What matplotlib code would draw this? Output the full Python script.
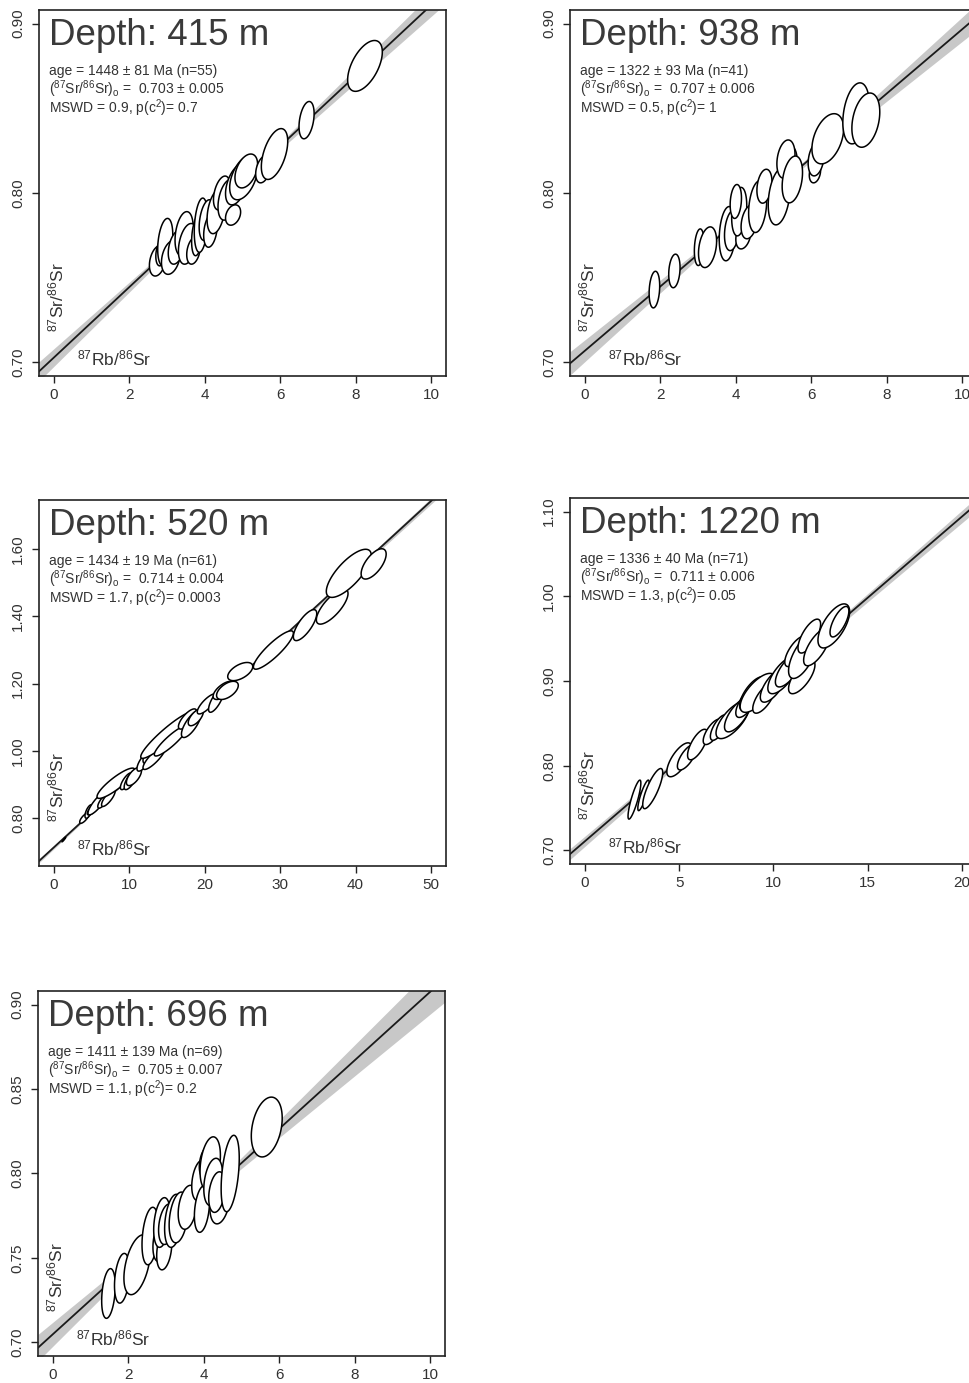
import numpy as np
import matplotlib
matplotlib.use('Agg')
import matplotlib.pyplot as plt
from matplotlib.transforms import offset_copy

plt.rcParams['font.family'] = ['Liberation Sans', 'DejaVu Sans']
plt.rcParams['mathtext.fontset'] = 'custom'
plt.rcParams['mathtext.rm'] = 'Liberation Sans'
plt.rcParams['mathtext.default'] = 'regular'

LAMBDA = 1.42e-11   # 87Rb decay constant (1/yr)

## panel results
depths = [415, 938, 520, 1220, 696]
ages = [1448, 1322, 1434, 1336, 1411]
age_errs = [81, 93, 19, 40, 139]
n_pts = [55, 41, 61, 71, 69]
sr0 = [0.703, 0.707, 0.714, 0.711, 0.705]
sr0_errs = [0.005, 0.006, 0.004, 0.006, 0.007]
mswd = ['0.9', '0.5', '1.7', '1.3', '1.1']
pchi = ['0.7', '1', '0.0003', '0.05', '0.2']

## error ellipses: centre, half widths and correlation
p1_x = [2.75, 2.85, 2.95, 3.10, 3.25, 3.45, 3.55, 3.70, 3.80, 3.90, 4.05, 4.15, 4.30, 4.45, 4.60, 4.75, 4.85, 5.03, 5.10, 5.55, 5.85, 6.70, 8.25]
p1_y = [0.760, 0.765, 0.771, 0.762, 0.768, 0.776, 0.770, 0.766, 0.775, 0.781, 0.784, 0.778, 0.789, 0.800, 0.796, 0.787, 0.805, 0.809, 0.813, 0.814, 0.823, 0.843, 0.875]
p1_sx = [0.22, 0.15, 0.20, 0.25, 0.22, 0.24, 0.25, 0.18, 0.15, 0.18, 0.20, 0.18, 0.24, 0.22, 0.25, 0.20, 0.30, 0.37, 0.30, 0.20, 0.35, 0.20, 0.46]
p1_sy = [0.009, 0.008, 0.014, 0.010, 0.010, 0.013, 0.012, 0.008, 0.012, 0.016, 0.012, 0.010, 0.013, 0.010, 0.012, 0.006, 0.012, 0.013, 0.010, 0.008, 0.015, 0.011, 0.015]
p1_rho = [0.3, 0.3, 0.3, 0.3, 0.35, 0.3, 0.35, 0.3, 0.3, 0.25, 0.35, 0.3, 0.35, 0.4, 0.35, 0.3, 0.45, 0.45, 0.4, 0.35, 0.5, 0.35, 0.55]

p2_x = [1.84, 2.37, 3.03, 3.25, 3.78, 3.90, 4.20, 4.09, 4.00, 4.36, 4.58, 4.76, 5.15, 5.45, 5.33, 5.50, 6.10, 6.13, 6.44, 7.19, 7.45]
p2_y = [0.743, 0.754, 0.768, 0.768, 0.776, 0.778, 0.775, 0.789, 0.795, 0.783, 0.792, 0.804, 0.798, 0.815, 0.820, 0.808, 0.812, 0.820, 0.832, 0.847, 0.843]
p2_sx = [0.14, 0.15, 0.13, 0.24, 0.22, 0.20, 0.20, 0.20, 0.15, 0.22, 0.24, 0.20, 0.29, 0.18, 0.24, 0.27, 0.15, 0.21, 0.42, 0.35, 0.37]
p2_sy = [0.0108, 0.0099, 0.0108, 0.012, 0.016, 0.012, 0.008, 0.0143, 0.010, 0.010, 0.0153, 0.010, 0.0168, 0.012, 0.0113, 0.0138, 0.006, 0.0099, 0.0148, 0.018, 0.016]
p2_rho = [0.2, 0.2, 0.2, 0.3, 0.2, 0.25, 0.3, 0.25, 0.2, 0.3, 0.25, 0.25, 0.3, 0.25, 0.25, 0.3, 0.25, 0.25, 0.4, 0.3, 0.3]

p3_x = [1.3, 4.0, 4.6, 5.3, 5.8, 6.5, 7.2, 8.2, 9.6, 10.2, 10.6, 12.0, 12.6, 13.3, 15.0, 15.5, 17.7, 18.2, 18.8, 20.3, 21.5, 22.5, 23.0, 24.7, 29.1, 33.3, 36.9, 39.1, 42.4]
p3_y = [0.737, 0.800, 0.820, 0.830, 0.845, 0.850, 0.860, 0.904, 0.910, 0.915, 0.924, 0.970, 0.988, 0.980, 1.047, 1.030, 1.095, 1.080, 1.100, 1.140, 1.150, 1.180, 1.180, 1.236, 1.300, 1.374, 1.429, 1.528, 1.556]
p3_sx = [0.25, 0.6, 0.5, 0.9, 1.3, 0.7, 0.9, 2.5, 0.8, 0.9, 1.0, 1.0, 0.8, 1.5, 3.5, 2.2, 1.2, 1.3, 1.0, 1.3, 1.0, 1.4, 1.44, 1.66, 2.65, 1.55, 2.1, 2.98, 1.66]
p3_sy = [0.007, 0.015, 0.020, 0.020, 0.035, 0.020, 0.025, 0.045, 0.025, 0.030, 0.027, 0.030, 0.025, 0.035, 0.069, 0.045, 0.030, 0.040, 0.025, 0.030, 0.035, 0.027, 0.027, 0.027, 0.057, 0.046, 0.052, 0.0715, 0.045]
p3_rho = [0.95, 0.75, 0.65, 0.8, 0.85, 0.75, 0.8, 0.88, 0.75, 0.75, 0.65, 0.75, 0.65, 0.85, 0.93, 0.9, 0.75, 0.75, 0.65, 0.8, 0.75, 0.65, 0.55, 0.55, 0.88, 0.75, 0.75, 0.75, 0.65]

p4_x = [2.62, 3.10, 3.59, 5.00, 5.40, 5.97, 6.77, 7.10, 7.83, 8.10, 8.60, 8.90, 9.16, 9.50, 10.0, 10.5, 10.8, 11.2, 11.5, 11.55, 11.9, 12.3, 13.2, 13.5]
p4_y = [0.760, 0.765, 0.773, 0.807, 0.810, 0.825, 0.840, 0.845, 0.854, 0.860, 0.875, 0.885, 0.886, 0.880, 0.895, 0.907, 0.913, 0.935, 0.905, 0.929, 0.953, 0.940, 0.965, 0.970]
p4_sx = [0.34, 0.30, 0.53, 0.66, 0.50, 0.53, 0.50, 0.45, 0.88, 0.70, 0.60, 0.70, 0.93, 0.60, 0.70, 0.80, 0.70, 0.60, 0.70, 0.75, 0.60, 0.70, 0.84, 0.50]
p4_sy = [0.023, 0.018, 0.0237, 0.020, 0.015, 0.018, 0.015, 0.015, 0.022, 0.020, 0.018, 0.020, 0.023, 0.018, 0.020, 0.022, 0.020, 0.018, 0.020, 0.026, 0.020, 0.022, 0.026, 0.018]
p4_rho = [0.85, 0.85, 0.8, 0.7, 0.7, 0.7, 0.7, 0.7, 0.7, 0.7, 0.7, 0.7, 0.7, 0.7, 0.7, 0.7, 0.7, 0.7, 0.7, 0.65, 0.7, 0.7, 0.65, 0.7]

p5_x = [1.47, 1.83, 2.23, 2.58, 2.85, 2.95, 2.89, 3.02, 3.20, 3.33, 3.57, 3.90, 3.95, 4.10, 4.17, 4.25, 4.43, 4.35, 4.70, 5.67]
p5_y = [0.729, 0.738, 0.746, 0.763, 0.760, 0.755, 0.771, 0.770, 0.772, 0.774, 0.780, 0.796, 0.779, 0.807, 0.806, 0.795, 0.784, 0.789, 0.800, 0.8275]
p5_sx = [0.18, 0.20, 0.35, 0.22, 0.20, 0.20, 0.22, 0.22, 0.24, 0.25, 0.25, 0.22, 0.20, 0.22, 0.27, 0.25, 0.27, 0.22, 0.24, 0.41]
p5_sy = [0.0147, 0.0147, 0.0177, 0.017, 0.012, 0.012, 0.0147, 0.012, 0.0157, 0.015, 0.013, 0.012, 0.0138, 0.010, 0.0157, 0.014, 0.0138, 0.012, 0.0226, 0.0177]
p5_rho = [0.3, 0.3, 0.45, 0.3, 0.3, 0.3, 0.3, 0.3, 0.3, 0.3, 0.3, 0.3, 0.3, 0.3, 0.3, 0.3, 0.3, 0.3, 0.4, 0.3]

ell_x = [p1_x, p2_x, p3_x, p4_x, p5_x]
ell_y = [p1_y, p2_y, p3_y, p4_y, p5_y]
ell_sx = [p1_sx, p2_sx, p3_sx, p4_sx, p5_sx]
ell_sy = [p1_sy, p2_sy, p3_sy, p4_sy, p5_sy]
ell_rho = [p1_rho, p2_rho, p3_rho, p4_rho, p5_rho]

xticks = [[0, 2, 4, 6, 8, 10], [0, 2, 4, 6, 8, 10], [0, 10, 20, 30, 40, 50],
          [0, 5, 10, 15, 20], [0, 2, 4, 6, 8, 10]]
yticks = [[0.70, 0.80, 0.90], [0.70, 0.80, 0.90], [0.80, 1.00, 1.20, 1.40, 1.60],
          [0.70, 0.80, 0.90, 1.00, 1.10], [0.70, 0.75, 0.80, 0.85, 0.90]]
xlims = [(-0.4, 10.4), (-0.4, 10.4), (-2, 52), (-0.8, 20.8), (-0.4, 10.4)]
ylims = [(0.692, 0.908), (0.692, 0.908), (0.658, 1.746), (0.684, 1.116), (0.692, 0.908)]

# axes boxes in pixels: left, top, width, height
W, H = 970, 1383
boxes = [(39, 10, 407, 366), (570, 10, 407, 366), (39, 500, 407, 366),
         (570, 498, 407, 366), (38, 991, 407, 365)]

fig = plt.figure(figsize=(W / 100, H / 100), dpi=100)
tcol = '#333333'

for i in range(5):
    l, t, w, h = boxes[i]
    ax = fig.add_axes([l / W, 1 - (t + h) / H, w / W, h / H])
    ax.set_xlim(*xlims[i])
    ax.set_ylim(*ylims[i])

    # isochron line and error band
    slope = np.exp(LAMBDA * ages[i] * 1e6) - 1
    s_slope = LAMBDA * np.exp(LAMBDA * ages[i] * 1e6) * age_errs[i] * 1e6
    xc = np.mean(ell_x[i])
    w0 = np.sqrt(max(sr0_errs[i] ** 2 - (s_slope * xc) ** 2, (0.15 * sr0_errs[i]) ** 2))
    xx = np.linspace(xlims[i][0], xlims[i][1], 300)
    yy = sr0[i] + slope * xx
    ww = np.sqrt(w0 ** 2 + (s_slope * (xx - xc)) ** 2)
    ax.fill_between(xx, yy - ww, yy + ww, color='#c8c8c8', lw=0, zorder=1)
    ax.plot(xx, yy, color='#1a1a1a', lw=1.3, zorder=2)

    # error ellipses
    tt = np.linspace(0, 2 * np.pi, 150)
    for x, y, sx, sy, r in zip(ell_x[i], ell_y[i], ell_sx[i], ell_sy[i], ell_rho[i]):
        ex = x + sx * np.cos(tt)
        ey = y + sy * (r * np.cos(tt) + np.sqrt(1 - r * r) * np.sin(tt))
        ax.fill(ex, ey, facecolor='white', edgecolor='black', lw=1.1, zorder=3)

    ax.set_xticks(xticks[i])
    ax.set_xticklabels([str(v) for v in xticks[i]])
    ax.set_yticks(yticks[i])
    ax.set_yticklabels(['%.2f' % v for v in yticks[i]], rotation=90, va='center')
    ax.tick_params(direction='out', length=5, width=1, labelsize=11,
                   colors='#222222', labelcolor=tcol)
    ax.tick_params(axis='x', pad=3.5)
    ax.tick_params(axis='y', pad=5)
    for sp in ax.spines.values():
        sp.set_linewidth(1.2)
        sp.set_color('#222222')

    def tr(dx, dy, ref):
        return offset_copy(ref, fig=fig, x=dx, y=dy, units='dots')

    ax.text(0, 1, 'Depth: %d m' % depths[i], transform=tr(10, -35, ax.transAxes),
            fontsize=26.5, color='#3a3a3a', va='baseline', ha='left', zorder=5)
    ax.text(0, 1, 'age = %d ± %d Ma (n=%d)' % (ages[i], age_errs[i], n_pts[i]),
            transform=tr(10, -65, ax.transAxes), fontsize=10, color=tcol,
            va='baseline', ha='left', zorder=5)
    ax.text(0, 1, r'($^{87}$Sr/$^{86}$Sr)$_{o}$ =  %.3f ± %.3f' % (sr0[i], sr0_errs[i]),
            transform=tr(10, -84, ax.transAxes), fontsize=10, color=tcol,
            va='baseline', ha='left', zorder=5)
    ax.text(0, 1, r'MSWD = %s, p(c$^{2}$)= %s' % (mswd[i], pchi[i]),
            transform=tr(10, -103, ax.transAxes), fontsize=10, color=tcol,
            va='baseline', ha='left', zorder=5)
    ax.text(0, 0, r'$^{87}$Sr/$^{86}$Sr', transform=tr(17, 44, ax.transAxes),
            fontsize=12.5, color=tcol, rotation=90, ha='center', va='bottom', zorder=5)
    ax.text(0, 0, r'$^{87}$Rb/$^{86}$Sr', transform=tr(38, 11, ax.transAxes),
            fontsize=12.5, color=tcol, ha='left', va='baseline', zorder=5)

fig.savefig('out.png', dpi=100)
